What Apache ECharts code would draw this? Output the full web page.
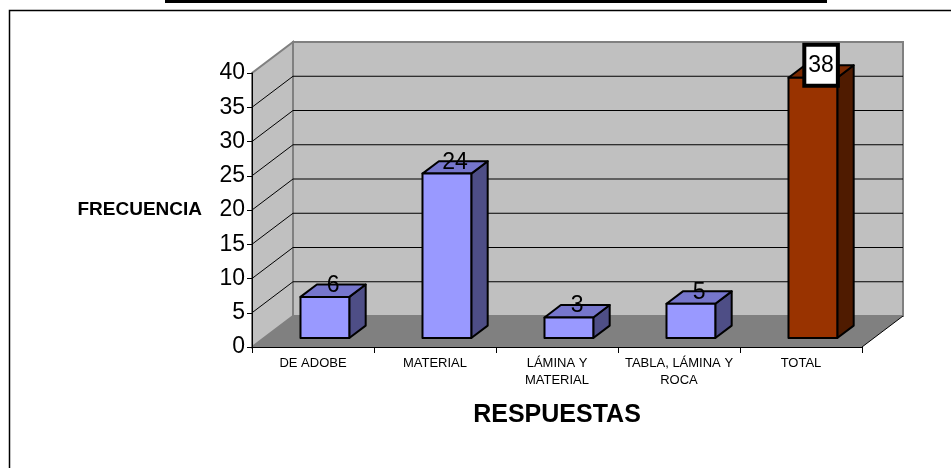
<!DOCTYPE html>
<html>
<head>
<meta charset="utf-8">
<script src="https://cdn.jsdelivr.net/npm/echarts@6/dist/echarts.min.js"></script>
<style>
html,body{margin:0;padding:0;background:#fff;}
#chart{width:951px;height:468px;}
</style>
</head>
<body>
<div id="chart"></div>
<script>
const categories = ['DE ADOBE', 'MATERIAL', 'LÁMINA Y\nMATERIAL', 'TABLA, LÁMINA Y\nROCA', 'TOTAL'];
const values = [6, 24, 3, 5, 38];
const yTicks = [0, 5, 10, 15, 20, 25, 30, 35, 40];
const xTitle = 'RESPUESTAS';
const yTitle = 'FRECUENCIA';

const DX = 41, DY = -31;          // depth of the 3D box
const FRONT = 0.29, DEPTH = 0.4;  // bar position inside depth
const FONT = 'Arial, "Liberation Sans", sans-serif';

const normalColors = { front: '#9999FF', top: '#7676CC', side: '#4E4E86' };
const totalColors = { front: '#993300', top: '#7A2900', side: '#4F1B00' };

const chart = echarts.init(document.getElementById('chart'), null, { renderer: 'canvas' });

function wallsRender(params, api) {
  const cs = params.coordSys;
  const x0 = cs.x, x1 = cs.x + cs.width;
  const yOf = v => api.coord([0, v])[1];
  const y0 = yOf(yTicks[0]);
  const yT = yOf(yTicks[yTicks.length - 1]);
  const children = [];
  children.push({ type: 'polygon', shape: { points: [[x0, y0], [x0 + DX, y0 + DY], [x1 + DX, y0 + DY], [x1, y0]] },
    style: { fill: '#808080', stroke: null } });
  children.push({ type: 'rect', shape: { x: x0 + DX, y: yT + DY, width: x1 - x0, height: y0 - yT },
    style: { fill: '#C0C0C0', stroke: '#808080', lineWidth: 2 } });
  children.push({ type: 'polygon', shape: { points: [[x0, y0], [x0, yT], [x0 + DX, yT + DY], [x0 + DX, y0 + DY]] },
    style: { fill: '#C0C0C0', stroke: '#808080', lineWidth: 2 } });
  yTicks.slice(1, -1).forEach(v => {
    const y = yOf(v);
    children.push({ type: 'line', shape: { x1: x0 + DX, y1: y + DY, x2: x1 + DX, y2: y + DY },
      style: { stroke: '#000', lineWidth: 1 } });
    children.push({ type: 'line', shape: { x1: x0, y1: y, x2: x0 + DX, y2: y + DY },
      style: { stroke: '#000', lineWidth: 1 } });
  });
  children.push({ type: 'line', shape: { x1: x1, y1: y0, x2: x1 + DX, y2: y0 + DY },
    style: { stroke: '#000', lineWidth: 1 } });
  return { type: 'group', children };
}

function barsRender(params, api) {
  const i = api.value(0), v = api.value(1);
  const c = categories[i] === 'TOTAL' ? totalColors : normalColors;
  const band = api.size([1, 0])[0];
  const w = band * 0.4;
  const cx = api.coord([i, 0])[0];
  const fx = cx + DX * FRONT - w / 2;
  const yb = api.coord([i, 0])[1] + DY * FRONT;
  const yt = api.coord([i, v])[1] + DY * FRONT;
  const ddx = DX * DEPTH, ddy = DY * DEPTH;
  const st = { stroke: '#000', lineWidth: 2, lineJoin: 'round' };
  const children = [
    { type: 'polygon', shape: { points: [[fx + w, yt], [fx + w + ddx, yt + ddy], [fx + w + ddx, yb + ddy], [fx + w, yb]] },
      style: Object.assign({ fill: c.side }, st) },
    { type: 'polygon', shape: { points: [[fx, yt], [fx + ddx, yt + ddy], [fx + w + ddx, yt + ddy], [fx + w, yt]] },
      style: Object.assign({ fill: c.top }, st) },
    { type: 'rect', shape: { x: fx, y: yt, width: w, height: yb - yt },
      style: Object.assign({ fill: c.front }, st) }
  ];
  const isTotal = categories[i] === 'TOTAL';
  const txtStyle = {
    text: String(v), x: fx + w / 2 + ddx / 2, y: yt + ddy + 1,
    align: 'center', verticalAlign: 'middle',
    font: '23px ' + FONT, fill: '#000'
  };
  if (isTotal) {
    Object.assign(txtStyle, { y: yt + ddy, backgroundColor: '#fff', borderColor: '#000', borderWidth: 4, padding: [6, 2, 5, 2], lineHeight: 26 });
  }
  children.push({ type: 'text', style: txtStyle, z2: 10 });
  return { type: 'group', children };
}

const option = {
  animation: false,
  backgroundColor: '#fff',
  graphic: [
    { type: 'rect', shape: { x: 165, y: 0, width: 662, height: 3 }, style: { fill: '#000' } },
    { type: 'rect', shape: { x: 9.5, y: 10.5, width: 1000, height: 500 }, style: { fill: null, stroke: '#000', lineWidth: 1.5 } }
  ],
  grid: { left: 252, right: 89, top: 73, bottom: 121 },
  xAxis: {
    type: 'category', data: categories, z: 5,
    axisLine: { lineStyle: { color: '#000', width: 1 } },
    axisTick: { show: true, length: 6, lineStyle: { color: '#000' } },
    axisLabel: { interval: 0, color: '#000', fontSize: 13, fontFamily: FONT, lineHeight: 17, margin: 8 },
    splitLine: { show: false },
    name: xTitle, nameLocation: 'middle', nameGap: 56,
    nameTextStyle: { fontSize: 25, fontWeight: 'bold', color: '#000', fontFamily: FONT }
  },
  yAxis: {
    type: 'value', min: yTicks[0], max: yTicks[yTicks.length - 1], interval: yTicks[1] - yTicks[0], z: 5,
    axisLine: { show: true, lineStyle: { color: '#000', width: 1 } },
    axisTick: { show: true, length: 5, lineStyle: { color: '#000' } },
    axisLabel: { color: '#000', fontSize: 23, fontFamily: FONT, margin: 7 },
    splitLine: { show: false },
    name: yTitle, nameLocation: 'middle', nameRotate: 0, nameGap: 50,
    nameTextStyle: { fontSize: 19, fontWeight: 'bold', color: '#000', fontFamily: FONT, align: 'right' }
  },
  series: [
    { type: 'custom', name: 'walls', z: 1, clip: false, silent: true, renderItem: wallsRender, data: [[0, 0]] },
    { type: 'custom', name: 'bars', z: 6, clip: false, renderItem: barsRender,
      data: values.map((v, i) => [i, v]) }
  ]
};
chart.setOption(option);
</script>
</body>
</html>
